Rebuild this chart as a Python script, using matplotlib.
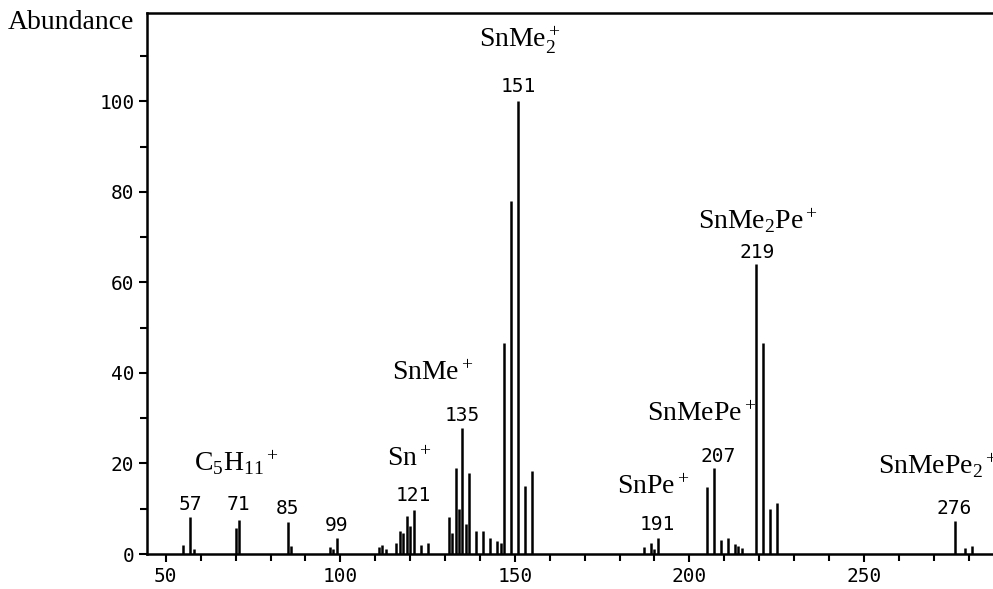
import matplotlib
matplotlib.use("Agg")
import matplotlib.pyplot as plt
from matplotlib.ticker import MultipleLocator

plt.rcParams['mathtext.fontset'] = 'custom'
plt.rcParams['mathtext.rm'] = 'Liberation Serif'
plt.rcParams['mathtext.it'] = 'Liberation Serif:italic'

# m/z and relative abundance
mz = [55, 57, 58, 70, 71, 85, 86, 97, 98, 99,
      111, 112, 113, 116, 117, 118, 119, 120, 121, 123, 125,
      131, 132, 133, 134, 135, 136, 137, 139, 141, 143, 145, 146, 147, 149, 151, 153, 155,
      187, 189, 190, 191, 205, 207, 209, 211, 213, 214, 215, 219, 221, 223, 225,
      276, 279, 281]
abundance = [2.0, 8.1, 1.1, 5.8, 7.6, 7.0, 1.8, 1.5, 1.0, 3.5,
             1.5, 1.9, 1.0, 2.4, 5.1, 4.7, 8.5, 6.2, 9.8, 1.9, 2.4,
             8.1, 4.7, 19.1, 9.9, 27.8, 6.6, 17.8, 5.1, 5.1, 3.5, 2.8, 2.5, 46.6, 78.0, 100.0, 15.0, 18.4,
             1.6, 2.4, 1.2, 3.5, 14.8, 19.1, 3.0, 3.6, 2.2, 1.7, 1.3, 64.0, 46.5, 9.9, 11.3,
             7.2, 1.3, 1.7]

# labelled peaks
peak_labels = ['57', '71', '85', '99', '121', '135', '151', '191', '207', '219', '276']
peak_label_x = [56.9, 70.9, 85, 99, 120.8, 135, 151, 190.7, 208.2, 219.3, 275.8]
peak_label_y = [10.9, 10.9, 10.0, 6.4, 12.9, 30.7, 103.3, 6.6, 21.6, 66.6, 10.0]

# ion assignments
ions = [r'$\mathrm{C_5H_{11}{}^+}$', r'$\mathrm{Sn^+}$', r'$\mathrm{SnMe^+}$', r'$\mathrm{SnMe_2^+}$',
        r'$\mathrm{SnPe^+}$', r'$\mathrm{SnMePe^+}$', r'$\mathrm{SnMe_2Pe^+}$', r'$\mathrm{SnMePe_2{}^+}$']
ion_x = [70.1, 119.6, 126.5, 151.5, 189.5, 203.6, 219.5, 254]
ion_y = [20.1, 21.2, 40.2, 113.5, 15.0, 31.1, 73.5, 19.4]

fig = plt.figure(figsize=(9.93, 5.89), dpi=100)
ax = fig.add_axes([0.148, 0.0594, 0.852, 0.9186])

ax.vlines(mz, 0, abundance, color='black', linewidth=1.8)

ax.set_xlim(44.6, 287)
ax.set_ylim(0, 119.5)

ax.xaxis.set_major_locator(MultipleLocator(50))
ax.xaxis.set_minor_locator(MultipleLocator(10))
ax.yaxis.set_major_locator(MultipleLocator(20))
ax.yaxis.set_minor_locator(MultipleLocator(10))
ax.tick_params(which='both', direction='out', width=1.5, color='black')
ax.tick_params(which='major', length=6, labelsize=14, pad=3)
ax.tick_params(which='minor', length=5)
for lab in ax.get_xticklabels() + ax.get_yticklabels():
    lab.set_fontfamily('DejaVu Sans Mono')

for side in ['left', 'top', 'bottom']:
    ax.spines[side].set_linewidth(1.8)
ax.spines['right'].set_visible(False)

for t, x, y in zip(peak_labels, peak_label_x, peak_label_y):
    ax.text(x, y, t, ha='center', va='center', fontsize=14, family='DejaVu Sans Mono')

for t, x, y in zip(ions, ion_x, ion_y):
    ha = 'left' if x > 250 else 'center'
    ax.text(x, y, t, ha=ha, va='center', fontsize=20)

fig.text(0.008, 0.962, 'Abundance', ha='left', va='center', fontsize=20, family='Liberation Serif')

fig.savefig('out.png', dpi=100)
